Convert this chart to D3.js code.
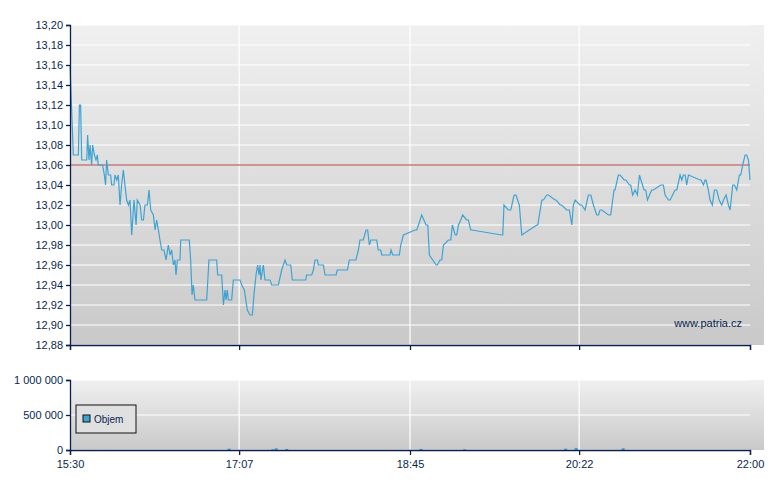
<!DOCTYPE html>
<html><head><meta charset="utf-8">
<script src="https://cdn.jsdelivr.net/npm/d3@7"></script>
<style>body{margin:0;background:#fff}text{font-family:"Liberation Sans",Arial,sans-serif;font-size:11px;fill:#0a1f4e}</style>
</head><body><div id="chart"></div>
<script>
// minutes since 15:30 and price
var priceMin = [0,1.9,4.8,5.4,6.1,6.7,9.6,10.1,10.9,11.5,12.4,13,14,14.9,15.7,16.2,18.7,19.7,20.4,21,22,23.3,23.9,25.2,25.8,26.8,27.7,28.7,29.6,30.6,31.5,32.5,33.5,34.4,35.4,36.7,37.9,38.6,40.2,41.1,42.1,43,44.4,45.3,46.3,47.8,48.8,49.7,50.7,51.6,52.6,53.9,55.1,56.4,57.4,58.3,59.3,60.2,60.8,61.6,63.1,63.5,68.4,69.2,70,70.7,71.7,78.4,79.7,84.1,84.7,87,88,88.9,89.5,90.2,90.8,92.7,93.7,97.5,98.5,100,101.7,103.2,104.6,105.5,106.7,107.6,108.4,109,109.5,110.9,111.8,114.7,115.7,119.5,121.4,123.3,124.3,126.6,127.5,135.2,135.7,138.6,139.6,140.5,141.9,142.4,145.3,146.3,152.6,153.3,159.1,160.2,164,165.4,166.3,168.2,169.8,170.7,171.7,172.6,175.9,176.8,178.2,178.8,183.5,184.1,185.1,188.9,189.7,191.2,197.9,198.9,200.8,201.7,204.2,205.2,206.1,210,210.7,212.2,213.2,214.2,217,218.4,219.3,220.9,221.8,222.8,224.1,225.2,227.5,228.5,229.8,230.4,247.6,248.2,248.9,251.4,252.8,254.7,255.8,257.7,259.1,267.7,268.3,270.6,271.5,273.4,274.4,278.2,278.8,281.1,282,284.9,286.4,287.8,288.7,289.7,292.5,293.5,295.4,297.3,298.7,300.2,302.1,303.1,304,305,308.8,310.1,312,312.6,314.5,315.5,317.8,318.9,320.8,321.6,322.7,324.1,325.4,326.6,329.2,330.2,331.2,333.6,334.6,338.8,340.3,341.3,343.2,344.2,347,348,349.9,350.9,351.8,352.8,353.7,354.7,361.4,361.9,363.3,364.2,364.8,366.1,367.1,368.4,369.6,370.9,372.3,373.8,374.8,376.3,377.6,378.6,380.1,381.1,382.4,383.9,384.7,385.8,387.2,388.1,389.1,390];
var priceVal = [13.16,13.07,13.07,13.12,13.12,13.065,13.065,13.09,13.065,13.08,13.06,13.08,13.07,13.065,13.07,13.06,13.06,13.05,13.04,13.065,13.05,13.05,13.04,13.04,13.05,13.045,13.05,13.02,13.04,13.055,13.04,13.025,13.02,13.025,12.99,13.025,13.0,13.025,13.02,13.005,13.005,13.02,13.02,13.035,13.015,13.01,12.995,13.005,12.995,12.985,12.975,12.975,12.965,12.98,12.97,12.975,12.96,12.965,12.95,12.965,12.965,12.985,12.985,12.965,12.93,12.94,12.925,12.925,12.965,12.965,12.95,12.95,12.92,12.935,12.925,12.935,12.925,12.925,12.945,12.945,12.94,12.935,12.915,12.91,12.91,12.93,12.95,12.96,12.95,12.96,12.945,12.96,12.945,12.945,12.94,12.94,12.955,12.965,12.96,12.96,12.945,12.945,12.95,12.95,12.955,12.965,12.965,12.96,12.96,12.95,12.95,12.955,12.955,12.965,12.965,12.975,12.985,12.985,12.995,12.995,12.98,12.985,12.985,12.975,12.975,12.97,12.97,12.975,12.97,12.97,12.98,12.99,12.995,12.995,13.005,13.01,13.0,13.0,12.97,12.96,12.96,12.965,12.965,12.98,12.985,12.985,13.0,12.99,12.99,13.0,13.005,13.01,13.005,13.005,12.995,12.995,12.99,12.99,13.02,13.015,13.015,13.03,13.03,13.02,12.99,13.0,13.0,13.025,13.025,13.03,13.03,13.025,13.025,13.02,13.02,13.015,13.015,13.0,13.02,13.025,13.02,13.02,13.015,13.03,13.03,13.02,13.01,13.01,13.015,13.015,13.01,13.01,13.035,13.035,13.05,13.05,13.045,13.045,13.04,13.04,13.03,13.035,13.03,13.05,13.035,13.035,13.025,13.035,13.035,13.04,13.04,13.03,13.025,13.025,13.035,13.035,13.05,13.045,13.05,13.05,13.04,13.05,13.045,13.045,13.04,13.045,13.045,13.035,13.025,13.02,13.035,13.035,13.025,13.02,13.025,13.03,13.02,13.015,13.04,13.04,13.035,13.05,13.05,13.06,13.07,13.07,13.065,13.045,13.055];
var volMin = [91,116,118,124,201,226,284,290,317];
var volVal = [20000,10000,25000,15000,15000,10000,20000,30000,25000];
var priceTicks = d3.range(12.88, 13.2001, 0.02);
var volTicks = [0, 500000, 1000000];
var timeTicks = [0, 97, 195, 292, 390];
var timeLabels = ["15:30", "17:07", "18:45", "20:22", "22:00"];
var refPrice = 13.06;

var W = 780, H = 490, L = 70, R = 750;
var svg = d3.select("#chart").append("svg").attr("width", W).attr("height", H);
var defs = svg.append("defs");
var grad = defs.append("linearGradient").attr("id", "bg").attr("x1", 0).attr("y1", 0).attr("x2", 0).attr("y2", 1);
grad.append("stop").attr("offset", "0%").attr("stop-color", "#f0f0f0");
grad.append("stop").attr("offset", "100%").attr("stop-color", "#c9c9c9");

var x = d3.scaleLinear().domain([0, 390]).range([L, R]);
var y = d3.scaleLinear().domain([12.88, 13.20]).range([345, 25]);
var yv = d3.scaleLinear().domain([0, 1000000]).range([450, 380]);
var fmt = d3.formatLocale({decimal: ",", thousands: " ", grouping: [3], currency: ["", ""]});

function panel(y0, y1, ticks, sc) {
  svg.append("rect").attr("x", L).attr("y", y0).attr("width", R - L + 14).attr("height", y1 - y0).attr("fill", "url(#bg)");
  svg.append("g").selectAll("line").data(ticks).enter().append("line")
    .attr("x1", L).attr("x2", R).attr("y1", function(d){ return sc(d); }).attr("y2", function(d){ return sc(d); })
    .attr("stroke", "#fff").attr("stroke-width", 1.2);
  svg.append("g").selectAll("line").data(timeTicks.slice(1, 4)).enter().append("line")
    .attr("x1", function(d){ return x(d); }).attr("x2", function(d){ return x(d); })
    .attr("y1", y0).attr("y2", y1).attr("stroke", "#fff").attr("stroke-width", 1.2);
}
panel(25, 345, priceTicks, y);
panel(380, 450, volTicks, yv);

svg.append("text").attr("x", 742).attr("y", 327).attr("text-anchor", "end").text("www.patria.cz");

svg.append("line").attr("x1", L).attr("x2", R).attr("y1", y(refPrice)).attr("y2", y(refPrice))
  .attr("stroke", "#a83a3a").attr("stroke-width", 1);

var pts = priceMin.map(function(m, i){ return [m, priceVal[i]]; });
svg.append("path").datum(pts)
  .attr("d", d3.line().x(function(d){ return x(d[0]); }).y(function(d){ return y(d[1]); }))
  .attr("fill", "none").attr("stroke", "#3ea3d3").attr("stroke-width", 1.2);

svg.append("g").selectAll("rect").data(volMin).enter().append("rect")
  .attr("x", function(d){ return x(d) - 1; }).attr("width", 3)
  .attr("y", function(d, i){ return yv(volVal[i]); })
  .attr("height", function(d, i){ return 450 - yv(volVal[i]); })
  .attr("fill", "#3ea3d3");

var axCol = "#0a1f4e";
var ga = svg.append("g").attr("transform", "translate(" + L + ",0)")
  .call(d3.axisLeft(y).tickValues(priceTicks).tickSize(4).tickFormat(fmt.format(".2f")));
var gb = svg.append("g").attr("transform", "translate(" + L + ",0)")
  .call(d3.axisLeft(yv).tickValues(volTicks).tickSize(4).tickFormat(fmt.format(",d")));
var gc = svg.append("g").attr("transform", "translate(0,345)")
  .call(d3.axisBottom(x).tickValues(timeTicks).tickSize(5).tickFormat(""));
var gd = svg.append("g").attr("transform", "translate(0,450)")
  .call(d3.axisBottom(x).tickValues(timeTicks).tickSize(5).tickFormat(function(d, i){ return timeLabels[i]; }));
[ga, gb, gc, gd].forEach(function(g){
  g.selectAll("path,line").attr("stroke", axCol).attr("stroke-width", 1.3);
  g.selectAll("text").attr("fill", axCol).style("font-size", "11px").style("font-family", "Liberation Sans, Arial, sans-serif");
});
gd.selectAll("text").attr("dy", "0.9em");

var lg = svg.append("g").attr("transform", "translate(76,405)");
lg.append("rect").attr("width", 60).attr("height", 28).attr("fill", "#e0e0e0").attr("stroke", "#111");
lg.append("rect").attr("x", 7).attr("y", 10).attr("width", 7).attr("height", 7).attr("fill", "#3ea3d3").attr("stroke", "#111");
lg.append("text").attr("x", 18).attr("y", 18).style("font-size", "10px").attr("fill", "#111").text("Objem");
</script></body></html>
